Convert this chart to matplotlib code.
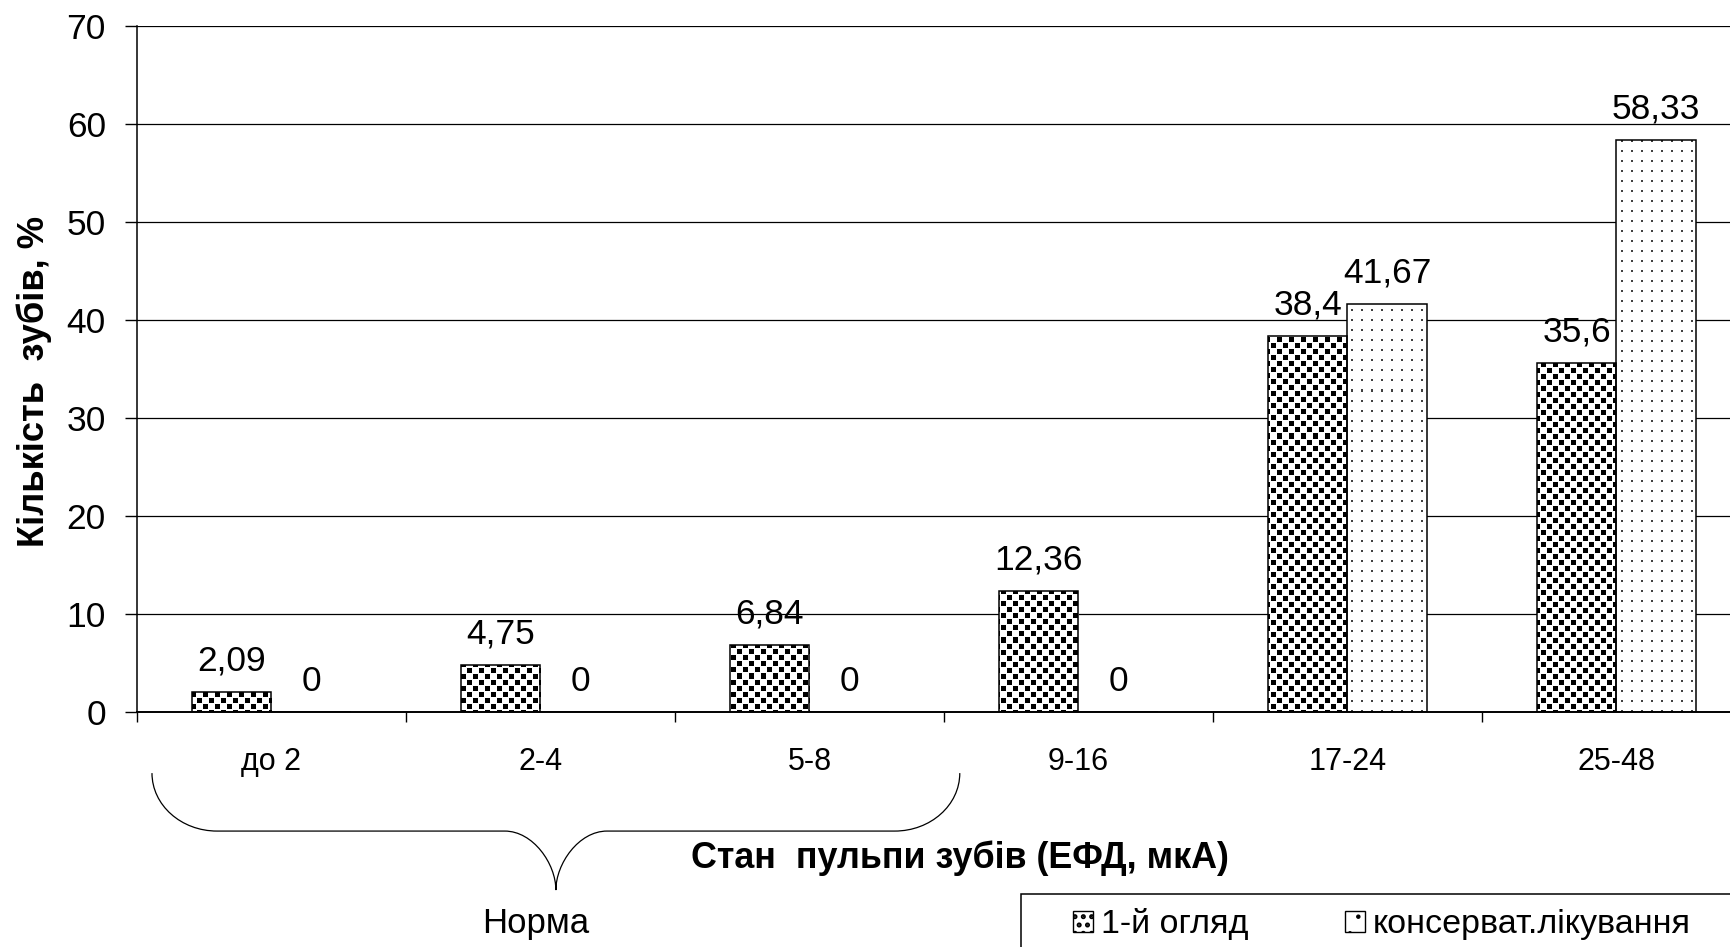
import numpy as np
import matplotlib.pyplot as plt
from matplotlib.patches import Rectangle, PathPatch
from matplotlib.path import Path
from matplotlib.legend_handler import HandlerPatch

plt.rcParams['font.family'] = ['Liberation Sans', 'DejaVu Sans']

# EFD groups (mkA) and share of teeth in each group, %
categories = ['до 2', '2-4', '5-8', '9-16', '17-24', '25-48']
first_exam = [2.09, 4.75, 6.84, 12.36, 38.4, 35.6]
conservative = [0, 0, 0, 0, 41.67, 58.33]
series_names = ['1-й огляд', 'консерват.лікування']
y_ticks = [0, 10, 20, 30, 40, 50, 60, 70]

# fill textures (0 = black, 1 = white), one tile each
dense_tile = np.ones((12, 12))
dense_tile[0:5, 0:5] = 0
dense_tile[6:11, 6:11] = 0
sparse_tile = np.ones((10, 10))
sparse_tile[4:6, 4:6] = 0.25


def fmt(v):
    """Value with a decimal comma, as in the source table."""
    return f'{v:g}'.replace('.', ',')


def fill_bars(ax, bars, tile):
    """Paint a pixel texture inside each bar."""
    h = int(round(ax.bbox.height))
    w = int(round(ax.bbox.width))
    reps = (h // tile.shape[0] + 1, w // tile.shape[1] + 1)
    img = np.tile(tile, reps)[:h, :w]
    x0, x1 = ax.get_xlim()
    y0, y1 = ax.get_ylim()
    for bar in bars:
        im = ax.imshow(img, cmap='gray', vmin=0, vmax=1, extent=(x0, x1, y0, y1),
                       interpolation='nearest', aspect='auto', zorder=2.5)
        im.set_clip_path(bar)


def hatch_handle(lw):
    """Legend box with its own hatch weight."""
    def make(legend, orig_handle, xdescent, ydescent, width, height, fontsize):
        with plt.rc_context({'hatch.linewidth': lw}):
            return Rectangle((-xdescent, -ydescent), width, height)
    return HandlerPatch(patch_func=make)


fig = plt.figure(figsize=(17.31, 9.47), dpi=100)
ax = fig.add_axes([0.0791, 0.2481, 0.9324, 0.7244])
ax.set_xlim(-0.5, len(categories) - 0.5)
ax.set_ylim(0, 70)

x = np.arange(len(categories))
w = 0.295

b1 = ax.bar(x - w / 2, first_exam, w, facecolor='none', edgecolor='black',
            linewidth=1.1, zorder=3)
b2 = ax.bar(x + w / 2, conservative, w, facecolor='none', edgecolor='black',
            linewidth=1.1, zorder=3)
fill_bars(ax, b1, dense_tile)
fill_bars(ax, b2, sparse_tile)

for xs, vals in ((x - w / 2, first_exam), (x + w / 2, conservative)):
    for xi, v in zip(xs, vals):
        ax.annotate(fmt(v), (xi, v), xytext=(0, 15.5), textcoords='offset points',
                    ha='center', va='baseline', fontsize=25.5)

ax.set_xlim(-0.5, len(categories) - 0.5)
ax.set_ylim(0, 70)
ax.set_yticks(y_ticks)
ax.tick_params(axis='y', length=8.6, width=1.0, pad=13.7, labelsize=25.5)

# ticks between groups, labels at group centres
ax.set_xticks(np.arange(len(categories) + 1) - 0.5)
ax.set_xticklabels([])
ax.set_xticks(x, minor=True)
ax.set_xticklabels(categories, minor=True)
ax.tick_params(axis='x', which='major', length=7.2, width=1.0)
ax.tick_params(axis='x', which='minor', length=0, pad=25, labelsize=22)

ax.yaxis.grid(True, color='black', linewidth=0.9, zorder=0)
ax.set_axisbelow(True)
for side in ('top', 'right'):
    ax.spines[side].set_visible(False)
ax.spines['left'].set_linewidth(1.1)
ax.spines['bottom'].set_linewidth(1.4)

fig.text(34 / 1731, 1 - 381 / 947, 'Кількість  зубів, %', rotation=90,
         ha='center', va='center', fontsize=26.2, fontweight='bold')
fig.text(960 / 1731, 1 - 868 / 947, 'Стан  пульпи зубів (ЕФД, мкА)',
         ha='center', va='baseline', fontsize=25.8, fontweight='bold')

# curly brace under the first three groups ("norm")
tr = ax.get_xaxis_transform()
xl, xr = -0.444, 2.559
xm = (xl + xr) / 2
yt, yb, ytip = -0.089, -0.1735, -0.2595
k = 0.552
cl, cm = xl + 0.242, xm - 0.19
verts = [
    (xl, yt), (xl, yt + k * (yb - yt)), (cl - k * (cl - xl), yb), (cl, yb),
    (cm, yb),
    (cm + k * (xm - cm), yb), (xm, yb + k * (ytip - yb)), (xm, ytip),
    (xm, yb + k * (ytip - yb)), (2 * xm - cm - k * (xm - cm), yb), (2 * xm - cm, yb),
    (2 * xm - cl, yb),
    (2 * xm - cl + k * (cl - xl), yb), (xr, yt + k * (yb - yt)), (xr, yt),
]
codes = ([Path.MOVETO] + [Path.CURVE4] * 3 + [Path.LINETO] + [Path.CURVE4] * 3
         + [Path.CURVE4] * 3 + [Path.LINETO] + [Path.CURVE4] * 3)
ax.add_patch(PathPatch(Path(verts, codes), transform=tr, fill=False,
                       edgecolor='black', linewidth=0.9, clip_on=False))
ax.text(0.983, -0.322, 'Норма', transform=tr, ha='center', va='baseline',
        fontsize=25)

# legend box, partly outside the figure
fig.patches.append(Rectangle((1021 / 1731, -0.05), 0.5, 0.05 + 53 / 947,
                             transform=fig.transFigure, fill=False,
                             edgecolor='black', linewidth=1.1))
keys = [Rectangle((0, 0), 1, 1, facecolor='white', edgecolor='black',
                  linewidth=1.0, hatch=h) for h in ('..', '.')]
fig.legend(keys, series_names, loc='lower left',
           bbox_to_anchor=(1073 / 1731, 0.007), ncol=2, frameon=False,
           borderpad=0, borderaxespad=0, fontsize=24.5,
           handlelength=0.59, handleheight=0.59, handletextpad=0.22,
           columnspacing=2.85,
           handler_map={keys[0]: hatch_handle(2.4), keys[1]: hatch_handle(0.8)})

fig.savefig('out.png', dpi=100)
